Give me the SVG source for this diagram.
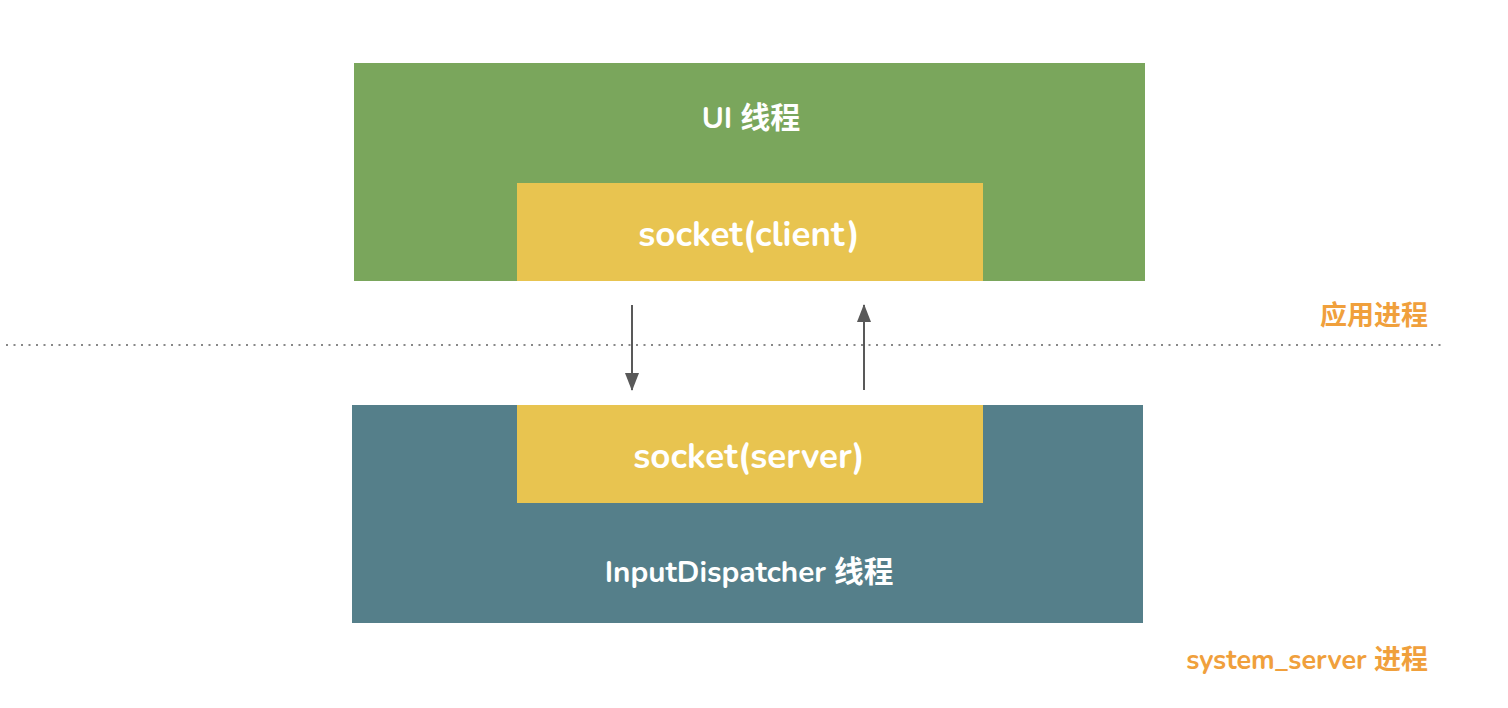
<svg xmlns="http://www.w3.org/2000/svg" width="1508" height="708" viewBox="0 0 1508 708">
<style>
text{font-family:"Nunito","Open Sans","Noto Sans","Noto Sans CJK SC",sans-serif;font-weight:700}
.w{fill:#ffffff;text-anchor:middle}
.o{fill:#F0A03C;text-anchor:end;font-size:27px}
.conn{stroke:#595959;stroke-width:2;fill:none}
</style>
<defs>
<marker id="ah2" viewBox="0 0 18 14" refX="17" refY="7" markerWidth="18" markerHeight="14" markerUnits="userSpaceOnUse" orient="auto">
<path d="M0,0 L18,7 L0,14 z" fill="#595959"/>
</marker>
</defs>
<rect width="1508" height="708" fill="#ffffff"/>
<line x1="6" y1="345" x2="1445" y2="345" stroke="#888888" stroke-width="2" stroke-dasharray="2 5.5"/>
<g id="app-thread">
<rect x="354" y="63" width="791" height="218" fill="#7AA65C"/>
<text class="w" x="751" y="128" font-size="30">UI 线程</text>
</g>
<g id="socket-client">
<rect x="517" y="183" width="466" height="98" fill="#E8C450"/>
<text class="w" x="749" y="246" font-size="35">socket(client)</text>
</g>
<g id="dispatcher-thread">
<rect x="352" y="405" width="791" height="218" fill="#557F8A"/>
<text class="w" x="749" y="582" font-size="29.7">InputDispatcher 线程</text>
</g>
<g id="socket-server">
<rect x="517" y="405" width="466" height="98" fill="#E8C450"/>
<text class="w" x="749" y="468" font-size="35">socket(server)</text>
</g>
<g id="connectors">
<line class="conn" x1="632" y1="305" x2="632" y2="390" marker-end="url(#ah2)"/>
<line class="conn" x1="864" y1="390" x2="864" y2="305" marker-end="url(#ah2)"/>
</g>
<g id="label-app">
<text class="o" x="1428" y="325">应用进程</text>
</g>
<g id="label-system">
<text class="o" x="1428" y="669">system_server 进程</text>
</g>
</svg>
